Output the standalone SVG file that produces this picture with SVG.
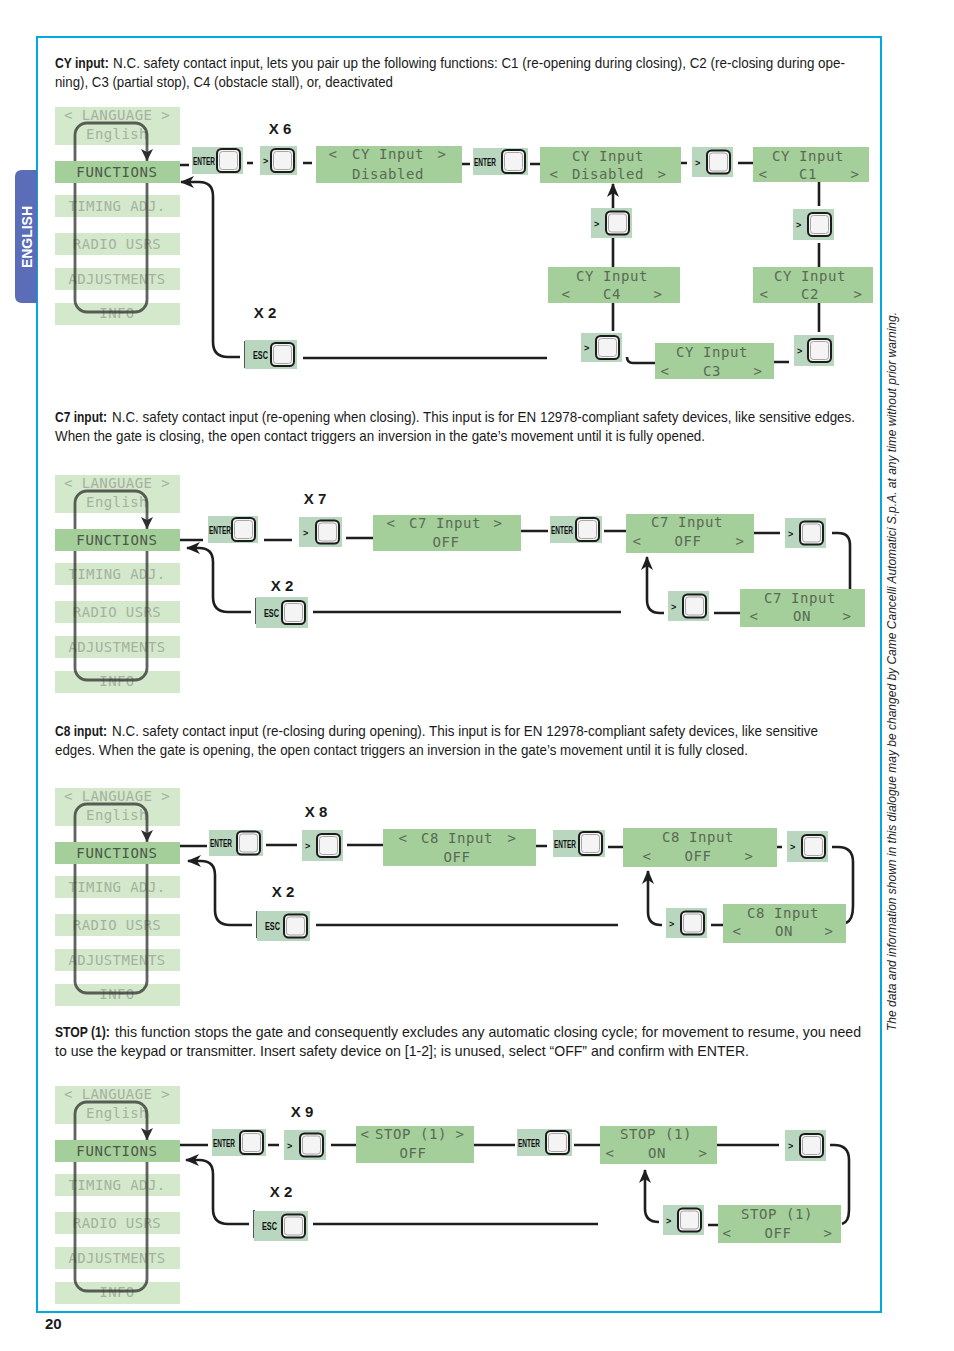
<svg xmlns="http://www.w3.org/2000/svg" width="954" height="1351" viewBox="0 0 954 1351">
<defs>
<style>
.para{font-family:"Liberation Sans Narrow","Liberation Sans",Arial,sans-serif;font-size:15px;fill:#1a1a1a}
.b{font-weight:bold}
.lcd{font-family:"DejaVu Sans Mono",monospace;font-size:14px;fill:#5a6a55;text-anchor:middle;letter-spacing:0.6px}
.mt{font-family:"DejaVu Sans Mono",monospace;font-size:14px;fill:#a4b29e;text-anchor:middle;letter-spacing:0.4px}
.mta{font-family:"DejaVu Sans Mono",monospace;font-size:14px;fill:#4c5848;text-anchor:middle;letter-spacing:0.6px}
.mi{fill:#d4e8cc}
.ma{fill:#a4cf9a}
.lcdbox{fill:#a4cf9a}
.btn{fill:#b9d6bf}
.key{fill:#f4f4f4;stroke:#1c1c1c;stroke-width:2}
.keyin{fill:none;stroke:#a6a6a6;stroke-width:1}
.lbl{font-family:"Liberation Sans Narrow","Liberation Sans",Arial,sans-serif;font-weight:bold;font-size:11px;fill:#111}
.gt{font-family:"Liberation Sans",Arial,sans-serif;font-weight:bold;font-size:9px;fill:#111}
.xl{font-family:"Liberation Sans Narrow","Liberation Sans",Arial,sans-serif;font-weight:bold;font-size:15px;fill:#1a1a1a;text-anchor:middle}
.wire{fill:none;stroke:#1e1e1e;stroke-width:2.6}
.arr{fill:none;stroke:#1e1e1e;stroke-width:2.6;marker-end:url(#ah)}
.loop{fill:none;stroke:#2e2e2e;stroke-width:2.8;opacity:0.75}
.tick{stroke:#1e1e1e;stroke-width:1.5}
</style>
<marker id="ah" markerUnits="userSpaceOnUse" markerWidth="14" markerHeight="12" viewBox="0 0 14 12" refX="13" refY="6" orient="auto">
<path d="M0,0 L14,6 L0,12 L4,6 z" fill="#1e1e1e"/>
</marker>
</defs>
<rect width="954" height="1351" fill="#ffffff"/>

<g id="frame">
<path d="M37,37 H881 V1312 H37 Z" fill="none" stroke="#00a9e0" stroke-width="2"/>
<path d="M37,170 H22 Q15,170 15,177 V296 Q15,303 22,303 H37 Z" fill="#5b6cb8"/>
<text transform="translate(32,237) rotate(-90)" text-anchor="middle" font-family="'Liberation Sans Narrow','Liberation Sans',Arial,sans-serif" font-weight="bold" font-size="15" fill="#ffffff" textLength="62" lengthAdjust="spacingAndGlyphs">ENGLISH</text>
<text transform="translate(896,1031) rotate(-90)" font-family="'Liberation Sans Narrow','Liberation Sans',Arial,sans-serif" font-style="italic" font-size="12.5" fill="#222" textLength="719" lengthAdjust="spacingAndGlyphs">The data and information shown in this dialogue may be changed by Came Cancelli Automatici S.p.A. at any time without prior warning.</text>
<text x="45" y="1329" font-family="'Liberation Sans Narrow','Liberation Sans',Arial,sans-serif" font-weight="bold" font-size="15" fill="#1a1a1a">20</text>
</g>

<g id="paragraphs">
<text class="para b" transform="translate(55,68) scale(0.81,1)">CY input:</text>
<text class="para" x="113" y="68" textLength="732" lengthAdjust="spacingAndGlyphs">N.C. safety contact input, lets you pair up the following functions: C1 (re-opening during closing), C2 (re-closing during ope-</text>
<text class="para" x="55" y="87" textLength="338" lengthAdjust="spacingAndGlyphs">ning), C3 (partial stop), C4 (obstacle stall), or, deactivated</text>
<text class="para b" transform="translate(55,422) scale(0.8,1)">C7 input:</text>
<text class="para" x="112" y="422" textLength="743" lengthAdjust="spacingAndGlyphs">N.C. safety contact input (re-opening when closing). This input is for EN 12978-compliant safety devices, like sensitive edges.</text>
<text class="para" x="55" y="441" textLength="650" lengthAdjust="spacingAndGlyphs">When the gate is closing, the open contact triggers an inversion in the gate’s movement until it is fully opened.</text>
<text class="para b" transform="translate(55,736) scale(0.8,1)">C8 input:</text>
<text class="para" x="112" y="736" textLength="706" lengthAdjust="spacingAndGlyphs">N.C. safety contact input (re-closing during opening). This input is for EN 12978-compliant safety devices, like sensitive</text>
<text class="para" x="55" y="755" textLength="693" lengthAdjust="spacingAndGlyphs">edges. When the gate is opening, the open contact triggers an inversion in the gate’s movement until it is fully closed.</text>
<text class="para b" transform="translate(55,1037) scale(0.81,1)">STOP (1):</text>
<text class="para" x="115" y="1037" textLength="746" lengthAdjust="spacingAndGlyphs">this function stops the gate and consequently excludes any automatic closing cycle; for movement to resume, you need</text>
<text class="para" x="55" y="1056" textLength="694" lengthAdjust="spacingAndGlyphs">to use the keypad or transmitter. Insert safety device on [1-2]; is unused, select “OFF” and confirm with ENTER.</text>
</g>

<!-- MENUS -->
<g id="menu1">
<rect class="mi" x="55" y="107" width="125" height="38"/><text class="mt" x="117" y="120">&lt; LANGUAGE &gt;</text><text class="mt" x="117" y="139">English</text>
<rect class="mi" x="55" y="195" width="125" height="22"/><text class="mt" x="117" y="211">TIMING ADJ.</text>
<rect class="mi" x="55" y="233" width="125" height="22"/><text class="mt" x="117" y="249">RADIO USRS</text>
<rect class="mi" x="55" y="268" width="125" height="22"/><text class="mt" x="117" y="284">ADJUSTMENTS</text>
<rect class="mi" x="55" y="303" width="125" height="22"/><text class="mt" x="117" y="318">INFO</text>
<rect class="loop" x="75" y="123" width="72" height="189" rx="12"/>
<rect class="ma" x="55" y="161" width="125" height="22"/><text class="mta" x="117" y="177">FUNCTIONS</text>
<polygon points="147,161 141,149 147,152 153,149" fill="#2e2e2e"/>
</g>
<g id="menu2">
<rect class="mi" x="55" y="475" width="125" height="38"/><text class="mt" x="117" y="488">&lt; LANGUAGE &gt;</text><text class="mt" x="117" y="507">English</text>
<rect class="mi" x="55" y="563" width="125" height="22"/><text class="mt" x="117" y="579">TIMING ADJ.</text>
<rect class="mi" x="55" y="601" width="125" height="22"/><text class="mt" x="117" y="617">RADIO USRS</text>
<rect class="mi" x="55" y="636" width="125" height="22"/><text class="mt" x="117" y="652">ADJUSTMENTS</text>
<rect class="mi" x="55" y="671" width="125" height="22"/><text class="mt" x="117" y="686">INFO</text>
<rect class="loop" x="75" y="491" width="72" height="189" rx="12"/>
<rect class="ma" x="55" y="529" width="125" height="22"/><text class="mta" x="117" y="545">FUNCTIONS</text>
<polygon points="147,529 141,517 147,520 153,517" fill="#2e2e2e"/>
</g>
<g id="menu3">
<rect class="mi" x="55" y="788" width="125" height="38"/><text class="mt" x="117" y="801">&lt; LANGUAGE &gt;</text><text class="mt" x="117" y="820">English</text>
<rect class="mi" x="55" y="876" width="125" height="22"/><text class="mt" x="117" y="892">TIMING ADJ.</text>
<rect class="mi" x="55" y="914" width="125" height="22"/><text class="mt" x="117" y="930">RADIO USRS</text>
<rect class="mi" x="55" y="949" width="125" height="22"/><text class="mt" x="117" y="965">ADJUSTMENTS</text>
<rect class="mi" x="55" y="984" width="125" height="22"/><text class="mt" x="117" y="999">INFO</text>
<rect class="loop" x="75" y="804" width="72" height="189" rx="12"/>
<rect class="ma" x="55" y="842" width="125" height="22"/><text class="mta" x="117" y="858">FUNCTIONS</text>
<polygon points="147,842 141,830 147,833 153,830" fill="#2e2e2e"/>
</g>
<g id="menu4">
<rect class="mi" x="55" y="1086" width="125" height="38"/><text class="mt" x="117" y="1099">&lt; LANGUAGE &gt;</text><text class="mt" x="117" y="1118">English</text>
<rect class="mi" x="55" y="1174" width="125" height="22"/><text class="mt" x="117" y="1190">TIMING ADJ.</text>
<rect class="mi" x="55" y="1212" width="125" height="22"/><text class="mt" x="117" y="1228">RADIO USRS</text>
<rect class="mi" x="55" y="1247" width="125" height="22"/><text class="mt" x="117" y="1263">ADJUSTMENTS</text>
<rect class="mi" x="55" y="1282" width="125" height="22"/><text class="mt" x="117" y="1297">INFO</text>
<rect class="loop" x="75" y="1102" width="72" height="189" rx="12"/>
<rect class="ma" x="55" y="1140" width="125" height="22"/><text class="mta" x="117" y="1156">FUNCTIONS</text>
<polygon points="147,1140 141,1128 147,1131 153,1128" fill="#2e2e2e"/>
</g>

<!-- CONNECTORS -->
<g id="connectors">
<path class="wire" d="M180,165 H189 M247,163 H253 M303,163 H312 M462,164 H470 M530,164 H540 M681,163 H687 M738,163 H753"/>
<path class="wire" d="M819,182 V206 M819,243 V267 M819,303 V332 M774,362 H789 M655,363 H633 Q627,363 627,357 M613,303 V331 M613,238 V267 M303,358 H547"/>
<path class="arr" d="M613,208 V184"/>
<path class="arr" d="M240,357 H228 Q213,357 213,342 V196 Q213,182 199,182 H181"/>
<line class="tick" x1="245" y1="341" x2="245" y2="368"/>

<path class="wire" d="M180,540 H203 M264,540 H292 M346,538 H373 M521,531 H548 M604,531 H626 M754,533 H780 M714,613 H740 M313,612 H621"/>
<path class="wire" d="M832,533 H838 Q850,533 850,545 V589"/>
<path class="arr" d="M664,613 H660 Q647,613 647,600 V557"/>
<path class="arr" d="M251,612 H228 Q213,612 213,597 V562 Q213,548 199,548 H187"/>
<line class="tick" x1="256" y1="598" x2="256" y2="624"/>

<path class="wire" d="M180,846 H207 M266,845 H297 M347,845 H383 M536,846 H547 M608,847 H623 M777,847 H782 M711,925 H723 M316,925 H618"/>
<path class="wire" d="M832,847 H838 Q853,847 853,862 V906 Q853,920 846,923"/>
<path class="arr" d="M662,925 H661 Q648,925 648,912 V871"/>
<path class="arr" d="M252,925 H230 Q215,925 215,910 V875 Q215,861 201,861 H188"/>
<line class="tick" x1="257" y1="911" x2="257" y2="938"/>

<path class="wire" d="M180,1145 H208 M268,1145 H279 M331,1145 H356 M474,1145 H515 M574,1145 H600 M717,1145 H779 M708,1225 H718 M313,1224 H598"/>
<path class="wire" d="M830,1145 H834 Q849,1145 849,1160 V1210 Q849,1222 842,1224"/>
<path class="arr" d="M659,1222 Q645,1222 645,1209 V1170"/>
<path class="arr" d="M249,1224 H228 Q213,1224 213,1209 V1174 Q213,1160 199,1160 H186"/>
<line class="tick" x1="254" y1="1210" x2="254" y2="1238"/>
</g>

<!-- X labels -->
<g id="xlabels">
<text class="xl" x="280" y="134">X 6</text>
<text class="xl" x="265" y="318">X 2</text>
<text class="xl" x="315" y="504">X 7</text>
<text class="xl" x="282" y="591">X 2</text>
<text class="xl" x="316" y="817">X 8</text>
<text class="xl" x="283" y="897">X 2</text>
<text class="xl" x="302" y="1117">X 9</text>
<text class="xl" x="281" y="1197">X 2</text>
</g>

<!-- SECTION 1 NODES -->
<g id="s1-enter1"><rect class="btn" x="192" y="147" width="51" height="27"/><rect class="key" x="217" y="149" width="23" height="23" rx="4.5"/><rect class="keyin" x="219.5" y="151.5" width="18" height="18" rx="3"/><text class="lbl" x="193" y="164.5" textLength="22" lengthAdjust="spacingAndGlyphs">ENTER</text></g>
<g id="s1-next1"><rect class="btn" x="260" y="146" width="37" height="29"/><rect class="key" x="271" y="149" width="23" height="23" rx="4.5"/><rect class="keyin" x="273.5" y="151.5" width="18" height="18" rx="3"/><text class="gt" x="263" y="164">&gt;</text></g>
<g id="s1-cy-disabled-sel"><rect class="lcdbox" x="316" y="146" width="146" height="37"/><text class="lcd" x="333" y="159">&lt;</text><text class="lcd" x="388" y="159">CY Input</text><text class="lcd" x="442" y="159">&gt;</text><text class="lcd" x="388" y="179">Disabled</text></g>
<g id="s1-enter2"><rect class="btn" x="473" y="148" width="55" height="27"/><rect class="key" x="502" y="150" width="23" height="23" rx="4.5"/><rect class="keyin" x="504.5" y="152.5" width="18" height="18" rx="3"/><text class="lbl" x="474" y="165.5" textLength="22" lengthAdjust="spacingAndGlyphs">ENTER</text></g>
<g id="s1-cy-disabled"><rect class="lcdbox" x="540" y="147" width="141" height="36"/><text class="lcd" x="608" y="161">CY Input</text><text class="lcd" x="554" y="179">&lt;</text><text class="lcd" x="608" y="179">Disabled</text><text class="lcd" x="662" y="179">&gt;</text></g>
<g id="s1-next2"><rect class="btn" x="692" y="147" width="41" height="30"/><rect class="key" x="707" y="150.5" width="23" height="23" rx="4.5"/><rect class="keyin" x="709.5" y="153" width="18" height="18" rx="3"/><text class="gt" x="695" y="165.5">&gt;</text></g>
<g id="s1-cy-c1"><rect class="lcdbox" x="753" y="147" width="116" height="35"/><text class="lcd" x="808" y="161">CY Input</text><text class="lcd" x="763" y="179">&lt;</text><text class="lcd" x="808" y="179">C1</text><text class="lcd" x="855" y="179">&gt;</text></g>
<g id="s1-next3"><rect class="btn" x="793" y="209" width="41" height="31"/><rect class="key" x="808" y="213" width="23" height="23" rx="4.5"/><rect class="keyin" x="810.5" y="215.5" width="18" height="18" rx="3"/><text class="gt" x="796" y="228">&gt;</text></g>
<g id="s1-cy-c2"><rect class="lcdbox" x="753" y="267" width="120" height="36"/><text class="lcd" x="810" y="281">CY Input</text><text class="lcd" x="764" y="299">&lt;</text><text class="lcd" x="810" y="299">C2</text><text class="lcd" x="858" y="299">&gt;</text></g>
<g id="s1-next4"><rect class="btn" x="794" y="335" width="40" height="31"/><rect class="key" x="808" y="339" width="23" height="23" rx="4.5"/><rect class="keyin" x="810.5" y="341.5" width="18" height="18" rx="3"/><text class="gt" x="797" y="354">&gt;</text></g>
<g id="s1-cy-c3"><rect class="lcdbox" x="655" y="343" width="119" height="36"/><text class="lcd" x="712" y="357">CY Input</text><text class="lcd" x="665" y="376">&lt;</text><text class="lcd" x="712" y="376">C3</text><text class="lcd" x="758" y="376">&gt;</text></g>
<g id="s1-next5"><rect class="btn" x="581" y="333" width="41" height="29"/><rect class="key" x="596" y="336" width="23" height="23" rx="4.5"/><rect class="keyin" x="598.5" y="338.5" width="18" height="18" rx="3"/><text class="gt" x="584" y="351">&gt;</text></g>
<g id="s1-cy-c4"><rect class="lcdbox" x="548" y="267" width="132" height="36"/><text class="lcd" x="612" y="281">CY Input</text><text class="lcd" x="566" y="299">&lt;</text><text class="lcd" x="612" y="299">C4</text><text class="lcd" x="658" y="299">&gt;</text></g>
<g id="s1-next6"><rect class="btn" x="591" y="208" width="41" height="30"/><rect class="key" x="606" y="211.5" width="23" height="23" rx="4.5"/><rect class="keyin" x="608.5" y="214" width="18" height="18" rx="3"/><text class="gt" x="594" y="226.5">&gt;</text></g>
<g id="s1-esc"><rect class="btn" x="245" y="340" width="52" height="29"/><rect class="key" x="271" y="343" width="23" height="23" rx="4.5"/><rect class="keyin" x="273.5" y="345.5" width="18" height="18" rx="3"/><text class="lbl" x="253" y="358.5" textLength="15" lengthAdjust="spacingAndGlyphs">ESC</text></g>

<!-- SECTION 2 NODES -->
<g id="s2-enter1"><rect class="btn" x="208" y="516" width="50" height="27"/><rect class="key" x="232" y="518" width="23" height="23" rx="4.5"/><rect class="keyin" x="234.5" y="520.5" width="18" height="18" rx="3"/><text class="lbl" x="209" y="533.5" textLength="22" lengthAdjust="spacingAndGlyphs">ENTER</text></g>
<g id="s2-next1"><rect class="btn" x="299" y="517" width="43" height="30"/><rect class="key" x="316" y="520.5" width="23" height="23" rx="4.5"/><rect class="keyin" x="318.5" y="523" width="18" height="18" rx="3"/><text class="gt" x="303" y="535.5">&gt;</text></g>
<g id="s2-c7-sel"><rect class="lcdbox" x="373" y="515" width="148" height="36"/><text class="lcd" x="391" y="528">&lt;</text><text class="lcd" x="445" y="528">C7 Input</text><text class="lcd" x="498" y="528">&gt;</text><text class="lcd" x="446" y="547">OFF</text></g>
<g id="s2-enter2"><rect class="btn" x="550" y="516" width="52" height="27"/><rect class="key" x="576" y="518" width="23" height="23" rx="4.5"/><rect class="keyin" x="578.5" y="520.5" width="18" height="18" rx="3"/><text class="lbl" x="551" y="533.5" textLength="22" lengthAdjust="spacingAndGlyphs">ENTER</text></g>
<g id="s2-c7-off"><rect class="lcdbox" x="626" y="514" width="128" height="39"/><text class="lcd" x="687" y="527">C7 Input</text><text class="lcd" x="637" y="546">&lt;</text><text class="lcd" x="688" y="546">OFF</text><text class="lcd" x="740" y="546">&gt;</text></g>
<g id="s2-next2"><rect class="btn" x="785" y="518" width="41" height="30"/><rect class="key" x="800" y="521.5" width="23" height="23" rx="4.5"/><rect class="keyin" x="802.5" y="524" width="18" height="18" rx="3"/><text class="gt" x="788" y="536.5">&gt;</text></g>
<g id="s2-c7-on"><rect class="lcdbox" x="740" y="589" width="125" height="38"/><text class="lcd" x="800" y="603">C7 Input</text><text class="lcd" x="754" y="621">&lt;</text><text class="lcd" x="802" y="621">ON</text><text class="lcd" x="847" y="621">&gt;</text></g>
<g id="s2-next3"><rect class="btn" x="668" y="591" width="41" height="30"/><rect class="key" x="683" y="594.5" width="23" height="23" rx="4.5"/><rect class="keyin" x="685.5" y="597" width="18" height="18" rx="3"/><text class="gt" x="671" y="609.5">&gt;</text></g>
<g id="s2-esc"><rect class="btn" x="256" y="597" width="52" height="31"/><rect class="key" x="282" y="601" width="23" height="23" rx="4.5"/><rect class="keyin" x="284.5" y="603.5" width="18" height="18" rx="3"/><text class="lbl" x="264" y="616.5" textLength="15" lengthAdjust="spacingAndGlyphs">ESC</text></g>

<!-- SECTION 3 NODES -->
<g id="s3-enter1"><rect class="btn" x="209" y="830" width="54" height="26"/><rect class="key" x="237" y="831.5" width="23" height="23" rx="4.5"/><rect class="keyin" x="239.5" y="834" width="18" height="18" rx="3"/><text class="lbl" x="210" y="847" textLength="22" lengthAdjust="spacingAndGlyphs">ENTER</text></g>
<g id="s3-next1"><rect class="btn" x="302" y="830" width="41" height="31"/><rect class="key" x="317" y="834" width="23" height="23" rx="4.5"/><rect class="keyin" x="319.5" y="836.5" width="18" height="18" rx="3"/><text class="gt" x="305" y="849">&gt;</text></g>
<g id="s3-c8-sel"><rect class="lcdbox" x="383" y="829" width="153" height="37"/><text class="lcd" x="403" y="843">&lt;</text><text class="lcd" x="457" y="843">C8 Input</text><text class="lcd" x="512" y="843">&gt;</text><text class="lcd" x="457" y="862">OFF</text></g>
<g id="s3-enter2"><rect class="btn" x="553" y="830" width="52" height="27"/><rect class="key" x="579" y="832" width="23" height="23" rx="4.5"/><rect class="keyin" x="581.5" y="834.5" width="18" height="18" rx="3"/><text class="lbl" x="554" y="847.5" textLength="22" lengthAdjust="spacingAndGlyphs">ENTER</text></g>
<g id="s3-c8-off"><rect class="lcdbox" x="623" y="828" width="154" height="39"/><text class="lcd" x="698" y="842">C8 Input</text><text class="lcd" x="647" y="861">&lt;</text><text class="lcd" x="698" y="861">OFF</text><text class="lcd" x="749" y="861">&gt;</text></g>
<g id="s3-next2"><rect class="btn" x="787" y="831" width="41" height="31"/><rect class="key" x="802" y="835" width="23" height="23" rx="4.5"/><rect class="keyin" x="804.5" y="837.5" width="18" height="18" rx="3"/><text class="gt" x="790" y="850">&gt;</text></g>
<g id="s3-c8-on"><rect class="lcdbox" x="723" y="904" width="123" height="39"/><text class="lcd" x="783" y="918">C8 Input</text><text class="lcd" x="737" y="936">&lt;</text><text class="lcd" x="784" y="936">ON</text><text class="lcd" x="829" y="936">&gt;</text></g>
<g id="s3-next3"><rect class="btn" x="666" y="908" width="41" height="30"/><rect class="key" x="681" y="911.5" width="23" height="23" rx="4.5"/><rect class="keyin" x="683.5" y="914" width="18" height="18" rx="3"/><text class="gt" x="669" y="926.5">&gt;</text></g>
<g id="s3-esc"><rect class="btn" x="257" y="911" width="53" height="30"/><rect class="key" x="284" y="914.5" width="23" height="23" rx="4.5"/><rect class="keyin" x="286.5" y="917" width="18" height="18" rx="3"/><text class="lbl" x="265" y="930" textLength="15" lengthAdjust="spacingAndGlyphs">ESC</text></g>

<!-- SECTION 4 NODES -->
<g id="s4-enter1"><rect class="btn" x="212" y="1129" width="54" height="27"/><rect class="key" x="240" y="1131" width="23" height="23" rx="4.5"/><rect class="keyin" x="242.5" y="1133.5" width="18" height="18" rx="3"/><text class="lbl" x="213" y="1146.5" textLength="22" lengthAdjust="spacingAndGlyphs">ENTER</text></g>
<g id="s4-next1"><rect class="btn" x="284" y="1130" width="42" height="30"/><rect class="key" x="300" y="1133.5" width="23" height="23" rx="4.5"/><rect class="keyin" x="302.5" y="1136" width="18" height="18" rx="3"/><text class="gt" x="287" y="1148.5">&gt;</text></g>
<g id="s4-stop-sel"><rect class="lcdbox" x="356" y="1126" width="118" height="37"/><text class="lcd" x="365" y="1139">&lt;</text><text class="lcd" x="411" y="1139">STOP (1)</text><text class="lcd" x="460" y="1139">&gt;</text><text class="lcd" x="413" y="1158">OFF</text></g>
<g id="s4-enter2"><rect class="btn" x="517" y="1129" width="55" height="27"/><rect class="key" x="546" y="1131" width="23" height="23" rx="4.5"/><rect class="keyin" x="548.5" y="1133.5" width="18" height="18" rx="3"/><text class="lbl" x="518" y="1146.5" textLength="22" lengthAdjust="spacingAndGlyphs">ENTER</text></g>
<g id="s4-stop-on"><rect class="lcdbox" x="600" y="1126" width="117" height="38"/><text class="lcd" x="656" y="1139">STOP (1)</text><text class="lcd" x="610" y="1158">&lt;</text><text class="lcd" x="657" y="1158">ON</text><text class="lcd" x="703" y="1158">&gt;</text></g>
<g id="s4-next2"><rect class="btn" x="785" y="1130" width="41" height="31"/><rect class="key" x="800" y="1134" width="23" height="23" rx="4.5"/><rect class="keyin" x="802.5" y="1136.5" width="18" height="18" rx="3"/><text class="gt" x="788" y="1149">&gt;</text></g>
<g id="s4-stop-off"><rect class="lcdbox" x="718" y="1205" width="123" height="38"/><text class="lcd" x="777" y="1219">STOP (1)</text><text class="lcd" x="727" y="1238">&lt;</text><text class="lcd" x="778" y="1238">OFF</text><text class="lcd" x="828" y="1238">&gt;</text></g>
<g id="s4-next3"><rect class="btn" x="663" y="1205" width="41" height="30"/><rect class="key" x="678" y="1208.5" width="23" height="23" rx="4.5"/><rect class="keyin" x="680.5" y="1211" width="18" height="18" rx="3"/><text class="gt" x="666" y="1223.5">&gt;</text></g>
<g id="s4-esc"><rect class="btn" x="254" y="1211" width="54" height="30"/><rect class="key" x="282" y="1214.5" width="23" height="23" rx="4.5"/><rect class="keyin" x="284.5" y="1217" width="18" height="18" rx="3"/><text class="lbl" x="262" y="1230" textLength="15" lengthAdjust="spacingAndGlyphs">ESC</text></g>
</svg>
